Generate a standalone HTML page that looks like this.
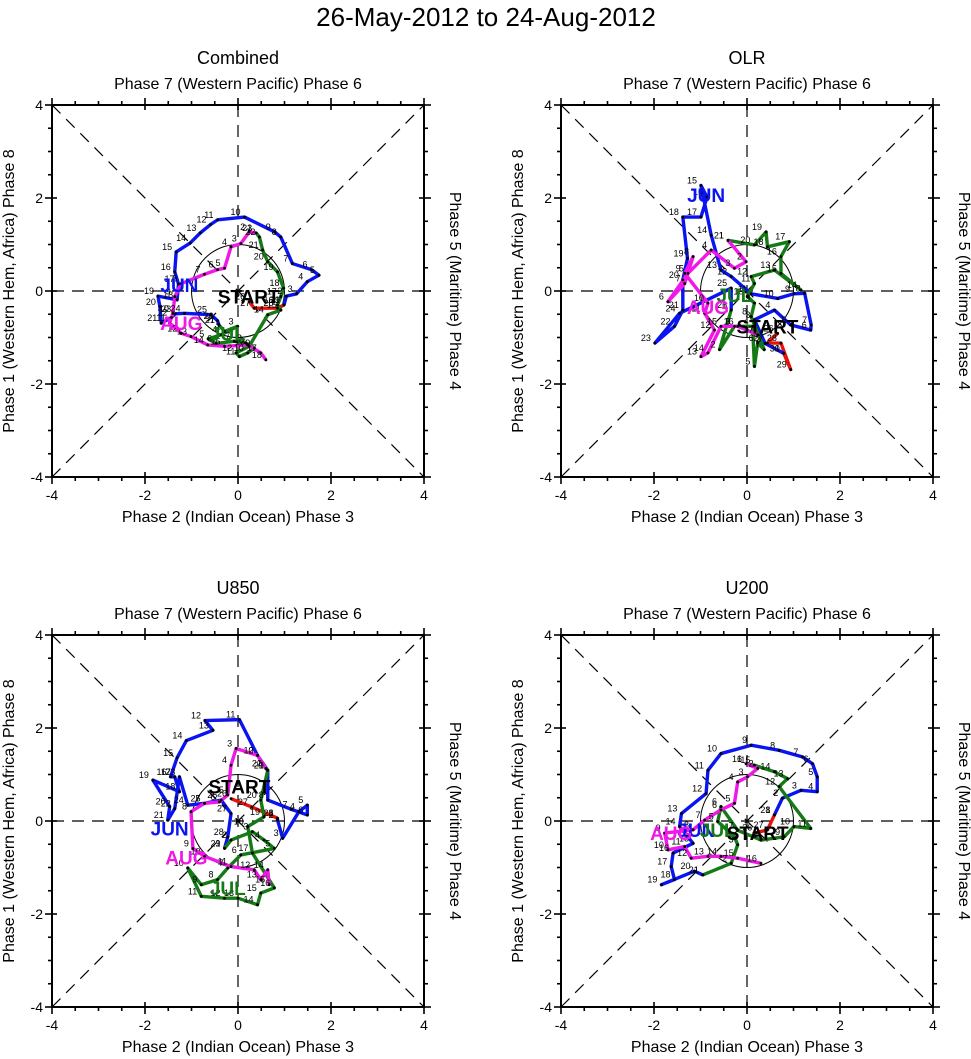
<!DOCTYPE html>
<html><head><meta charset="utf-8"><style>
body{margin:0;background:#fff}
svg{display:block;font-family:"Liberation Sans",sans-serif}
</style></head><body>
<svg id="fig" width="971" height="1059" viewBox="0 0 971 1059" xmlns="http://www.w3.org/2000/svg">
<text x="486" y="26" font-size="26" text-anchor="middle">26-May-2012 to 24-Aug-2012</text>
</svg>
<script>
const ticks=[-4,-2,0,2,4];
const tickLabels=["-4","-2","0","2","4"];
const panelTitles=["Combined","OLR","U850","U200"];
// each panel: series arrays of [x(RMM1), y(RMM2)]
const mayCombined=[[0.24,-0.23],[0.35,-0.37],[0.85,-0.37],[0.99,-0.30]];
const junCombined=[[0.99,-0.30],[1.04,-0.11],[1.26,-0.06],[1.49,0.20],[1.74,0.34],[1.58,0.46],[1.17,0.59],[0.92,1.16],[0.79,1.27],[0.14,1.59],[-0.44,1.53],[-0.59,1.43],[-0.81,1.25],[-1.03,1.03],[-1.33,0.84],[-1.36,0.41],[-1.28,0.15],[-1.31,-0.19],[-1.72,-0.11],[-1.68,-0.34],[-1.65,-0.69],[-1.43,-0.57],[-1.35,-0.49],[-1.15,-0.48],[-0.58,-0.51],[-0.44,-0.64],[-0.41,-0.73]];
const julCombined=[[-0.41,-0.73],[-0.29,-0.87],[-0.01,-0.76],[-0.36,-0.94],[-0.64,-1.03],[-0.47,-1.13],[-0.08,-1.08],[0.17,-1.12],[0.35,-1.23],[0.21,-1.33],[0.03,-1.41],[-0.04,-1.33],[0.24,-1.19],[0.64,-0.51],[0.92,-0.41],[0.85,-0.30],[0.92,-0.12],[0.98,0.06],[0.85,0.41],[0.64,0.63],[0.53,0.88],[0.46,1.16],[0.39,1.25]];
const augCombined=[[0.39,1.25],[0.24,1.27],[0.06,1.02],[-0.15,0.95],[-0.29,0.49],[-0.44,0.46],[-0.72,0.36],[-1.22,0.16],[-1.36,-0.12],[-1.40,-0.48],[-1.47,-0.69],[-1.22,-0.91],[-1.01,-0.98],[-0.65,-1.16],[-0.29,-1.19],[0.21,-1.16],[0.49,-1.33],[0.60,-1.48]];

const mayOLR=[[0.66,-0.91],[0.44,-1.12],[0.73,-1.12],[0.94,-1.69],[0.79,-1.34]];
const junOLR=[[0.79,-1.34],[0.39,-1.13],[0.16,-0.62],[0.59,-0.41],[0.94,-0.73],[1.37,-0.84],[1.38,-0.73],[1.24,-0.05],[1.01,-0.06],[0.66,-0.16],[0.09,-0.06],[-0.34,0.31],[-0.56,0.45],[-0.77,1.20],[-0.99,2.27],[-0.86,2.02],[-0.99,1.59],[-1.38,1.59],[-1.28,0.70],[-1.38,0.24],[-1.38,-0.41],[-1.56,-0.76],[-1.98,-1.12],[-1.45,-0.48],[-0.34,0.06],[-0.34,-0.41]];
const julOLR=[[-0.34,-0.41],[-0.59,-1.26],[-0.27,-0.76],[0.12,-0.76],[0.16,-1.62],[0.23,-1.12],[0.37,-1.26],[0.09,-0.55],[0.16,-0.26],[0.01,-0.12],[0.16,0.16],[0.09,0.31],[0.59,0.45],[1.16,0.02],[0.73,0.38],[0.73,0.74],[0.91,1.06],[0.44,0.95],[0.41,1.27],[0.16,0.99],[-0.41,1.09]];
const augOLR=[[-0.41,1.09],[-0.02,0.63],[-0.27,0.49],[-0.77,0.88],[-1.27,0.38],[-1.70,-0.23],[-1.34,0.16],[-1.16,0.74],[-1.34,0.38],[-0.84,-0.26],[-0.91,-0.48],[-0.70,-0.84],[-0.99,-1.41],[-0.84,-1.33],[-0.56,-0.76],[-0.20,-0.76],[0.23,-0.94]];

const mayU850=[[-0.15,0.48],[0.30,0.30],[0.85,0.06]];
const junU850=[[0.85,0.06],[0.85,0.02],[0.96,-0.37],[1.31,0.20],[1.49,0.34],[1.49,0.13],[1.15,0.25],[0.64,0.45],[0.64,1.09],[0.42,1.41],[0.03,2.18],[-0.71,2.16],[-0.54,1.95],[-1.11,1.73],[-1.31,1.36],[-1.45,0.95],[-1.36,0.95],[-1.26,0.63],[-1.83,0.88],[-1.47,0.31],[-1.51,0.02],[-1.36,0.27],[-1.26,0.95],[-1.08,0.34],[-0.72,0.38],[-0.36,0.45],[-0.15,0.16],[-0.22,-0.34],[-0.29,-0.59]];
const julU850=[[-0.29,-0.59],[-0.15,-0.41],[0.31,-0.23],[0.56,-0.41],[0.78,-0.59],[0.06,-0.73],[-0.22,-1.01],[-0.44,-1.26],[-0.79,-1.37],[-1.08,-1.01],[-0.79,-1.62],[-0.29,-1.66],[0.00,-1.66],[0.42,-1.80],[0.49,-1.55],[0.78,-1.44],[0.31,-0.69],[0.21,-0.12],[0.56,0.09],[0.49,0.45],[0.64,1.09],[0.60,1.13]];
const augU850=[[0.60,1.13],[0.42,1.41],[-0.04,1.56],[-0.15,1.20],[-0.22,0.56],[-0.40,0.41],[-0.72,0.38],[-1.01,0.20],[-0.97,-0.59],[-0.72,-0.76],[-0.15,-0.98],[0.35,-1.05],[0.49,-1.26],[0.64,-1.05],[0.67,-1.37]];

const mayU200=[[0.20,-0.25],[0.44,-0.19],[0.59,0.13]];
const junU200=[[0.59,0.13],[0.76,0.49],[1.16,0.66],[1.51,0.63],[1.51,0.95],[1.41,1.23],[1.19,1.38],[0.69,1.52],[0.09,1.63],[-0.56,1.45],[-0.84,1.09],[-0.88,0.59],[-1.41,0.16],[-1.45,-0.12],[-1.16,-0.48],[-1.59,-0.69],[-1.63,-0.98],[-1.56,-1.26],[-1.84,-1.37],[-1.13,-1.08],[-0.95,-1.16]];
const julU200=[[-0.95,-1.16],[-0.34,-0.91],[-0.20,-0.51],[-0.27,-0.34],[-0.63,-0.01],[-0.56,0.31],[-0.20,-0.20],[0.30,-0.41],[0.80,-0.34],[1.01,-0.12],[1.37,-0.16],[0.69,0.74],[0.87,0.91],[0.59,1.06],[0.16,1.20],[-0.02,1.23]];
const augU200=[[-0.02,1.23],[0.23,1.13],[0.01,0.95],[-0.20,0.84],[-0.27,0.38],[-0.56,0.24],[-0.91,0.02],[-1.16,-0.19],[-1.77,-0.26],[-1.70,-0.62],[-1.34,-0.55],[-1.20,-0.80],[-0.84,-0.76],[-0.56,-0.76],[-0.20,-0.80],[0.30,-0.91]];

// month label positions [JUN, JUL, AUG, START]
const labelsCombined=[[-1.26,0.13],[-0.22,-0.91],[-1.22,-0.69],[0.23,-0.12]];
const labelsOLR=[[-0.88,2.06],[-0.27,-0.09],[-0.84,-0.34],[0.44,-0.76]];
const labelsU850=[[-1.47,-0.16],[-0.22,-1.44],[-1.11,-0.78],[0.03,0.74]];
const labelsU200=[[-1.09,-0.19],[-0.63,-0.19],[-1.63,-0.26],[0.23,-0.26]];

const panels=[
 {x0:52,y0:105,series:[mayCombined,junCombined,julCombined,augCombined],labels:labelsCombined},
 {x0:561,y0:105,series:[mayOLR,junOLR,julOLR,augOLR],labels:labelsOLR},
 {x0:52,y0:635,series:[mayU850,junU850,julU850,augU850],labels:labelsU850},
 {x0:561,y0:635,series:[mayU200,junU200,julU200,augU200],labels:labelsU200}];
const colors=["#e8120c","#0a14f0","#157a15","#f018e6"];
const NS="http://www.w3.org/2000/svg";
const svg=document.getElementById('fig');
const W=372;
function mk(tag,attrs,parent){const e=document.createElementNS(NS,tag);for(const k in attrs)e.setAttribute(k,attrs[k]);(parent||svg).appendChild(e);return e;}
panels.forEach((p,pi)=>{
 const sx=v=>p.x0+(v+4)/8*W, sy=v=>p.y0+(4-v)/8*W;
 const g=mk('g',{});
 
 
 const cx=p.x0+W/2;
 let t=mk('text',{x:cx,y:p.y0-41,'font-size':18,'text-anchor':'middle'},g);t.textContent=panelTitles[pi];
 
 t=mk('text',{x:cx,y:p.y0-16,'font-size':16,'text-anchor':'middle'},g);t.textContent='Phase 7 (Western Pacific) Phase 6';
 
 t=mk('text',{x:cx,y:p.y0+W+45,'font-size':16,'text-anchor':'middle'},g);t.textContent='Phase 2 (Indian Ocean) Phase 3';
 
 const cy=p.y0+W/2;
 t=mk('text',{x:0,y:0,'font-size':16,'text-anchor':'middle',transform:`translate(${p.x0-38},${cy}) rotate(-90)`},g);t.textContent='Phase 1 (Western Hem, Africa) Phase 8';
 
 t=mk('text',{x:0,y:0,'font-size':16,'text-anchor':'middle',transform:`translate(${p.x0+W+26},${cy}) rotate(90)`},g);t.textContent='Phase 5 (Maritime) Phase 4';
 
 const dash={stroke:'#000','stroke-width':1.2,'stroke-dasharray':'12,8',fill:'none'};
 mk('line',Object.assign({x1:sx(0),y1:sy(4),x2:sx(0),y2:sy(-4)},dash),g);
 mk('line',Object.assign({x1:sx(-4),y1:sy(0),x2:sx(4),y2:sy(0)},dash),g);
 mk('line',Object.assign({x1:sx(-4),y1:sy(4),x2:sx(4),y2:sy(-4)},dash),g);
 mk('line',Object.assign({x1:sx(-4),y1:sy(-4),x2:sx(4),y2:sy(4)},dash),g);
 mk('circle',{cx:sx(0),cy:sy(0),r:W/8,fill:'none',stroke:'#000','stroke-width':1},g);
 mk('rect',{x:p.x0,y:p.y0,width:W,height:W,fill:'none',stroke:'#000','stroke-width':2},g);
 for(let v=-4;v<=4;v+=0.5){
  const maj=Number.isInteger(v/2);const a=maj?7:4;
  mk('line',{x1:sx(v),y1:p.y0+W-(maj?5:0),x2:sx(v),y2:p.y0+W+a,stroke:'#000','stroke-width':1.6},g);
  mk('line',{x1:sx(v),y1:p.y0+(maj?5:0),x2:sx(v),y2:p.y0-a,stroke:'#000','stroke-width':1.6},g);
  mk('line',{x1:p.x0+(maj?5:0),y1:sy(v),x2:p.x0-a,y2:sy(v),stroke:'#000','stroke-width':1.6},g);
  mk('line',{x1:p.x0+W-(maj?5:0),y1:sy(v),x2:p.x0+W+a,y2:sy(v),stroke:'#000','stroke-width':1.6},g);
 }
 ticks.forEach((v,i)=>{
  let tl=mk('text',{x:sx(v),y:p.y0+W+23,'font-size':14,'text-anchor':'middle'},g);tl.textContent=tickLabels[i];
  
  tl=mk('text',{x:p.x0-9,y:sy(v)+5,'font-size':14,'text-anchor':'end'},g);tl.textContent=tickLabels[i];
  
 });
 const mnames=['may','jun','jul','aug'];
 p.series.forEach((s,si)=>{
  const pl=mk('polyline',{points:s.map(q=>sx(q[0])+','+sy(q[1])).join(' '),fill:'none',stroke:colors[si],'stroke-width':3.4,'stroke-linejoin':'round'},g);
  
  
 });
 p.series.forEach((s,si)=>{
  s.forEach((q,k)=>{
   const d=mk('circle',{cx:sx(q[0]),cy:sy(q[1]),r:1.4,fill:'#000'},g);
   
   
   const n=mk('text',{x:sx(q[0])-4,y:sy(q[1])-2,'font-size':9,'text-anchor':'end',fill:'#000'},g);
   n.textContent=String(si===0?26+k:k+1);
   
   
  });
 });
 const lt=['JUN','JUL','AUG','START'];const lc=['#0a14f0','#157a15','#f018e6','#000'];
 p.labels.forEach((q,i)=>{
  const e=mk('text',{x:sx(q[0]),y:sy(q[1])+7,'font-size':19,'font-weight':'bold','text-anchor':'middle',fill:lc[i]},g);
  e.textContent=lt[i];
  
  
 });
});
</script>
</body></html>
